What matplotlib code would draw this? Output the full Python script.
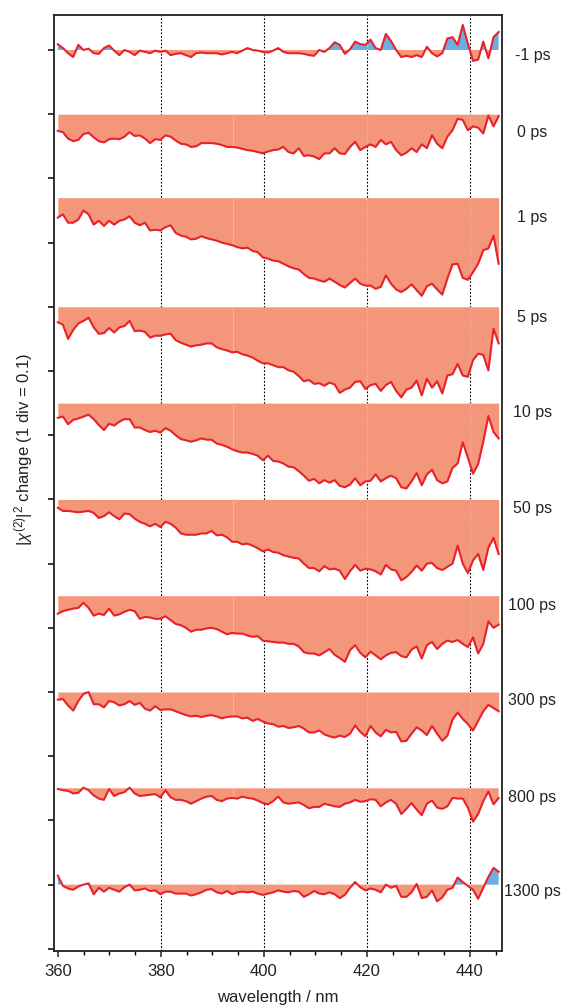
import numpy as np
import matplotlib
matplotlib.use("Agg")
import matplotlib.pyplot as plt

plt.rcParams['font.family'] = ['Liberation Sans', 'DejaVu Sans']
plt.rcParams['mathtext.fontset'] = 'custom'
plt.rcParams['mathtext.rm'] = 'Liberation Sans'
plt.rcParams['mathtext.it'] = 'Liberation Sans:italic'
plt.rcParams['mathtext.bf'] = 'Liberation Sans:bold'

# ---------------- data ----------------
wavelength = np.linspace(360, 445.6, 87)   # nm

delays = ['-1 ps', '0 ps', '1 ps', '5 ps', '10 ps', '50 ps', '100 ps', '300 ps', '800 ps', '1300 ps']

# changes of |chi(2)|^2 in units of 1e-3 (1 div = 0.1 = 100)
d_m1 = [9,3,-5,-11,8,0,2,-5,-6,3, 7,-1,-8,0,-3,-8,-1,-3,-5,-1, -3,-1,-8,-6,-5,-8,-11,-5,-4,-5,
        -5,-5,-7,-5,-3,-5,-1,3,0,-1, -3,-4,-1,3,-3,-5,-5,-5,-6,-8, -9,0,-3,3,12,8,-6,1,13,9,
        8,16,3,0,25,14,0,-11,-9,-11, -8,-11,5,-5,-10,-5,18,20,8,39, 10,-17,-15,13,-13,20,28]
d_0 = [-26,-28,-38,-42,-40,-31,-29,-36,-42,-44, -39,-38,-39,-35,-28,-34,-33,-38,-45,-39,
       -40,-33,-35,-41,-46,-47,-51,-50,-45,-45, -45,-46,-48,-51,-51,-52,-54,-56,-57,-59,
       -61,-58,-56,-55,-51,-59,-61,-53,-65,-64, -66,-70,-61,-61,-53,-61,-62,-51,-43,-56,
       -51,-47,-51,-40,-47,-43,-56,-64,-60,-53, -59,-47,-53,-33,-46,-53,-35,-25,-7,-9,
       -25,-19,-21,-30,-2,-19,-3]
d_1 = [-31,-26,-39,-39,-34,-20,-26,-42,-36,-44, -36,-42,-36,-34,-29,-39,-43,-39,-51,-50,
       -51,-46,-43,-55,-59,-61,-65,-64,-60,-63, -65,-67,-70,-72,-74,-77,-79,-78,-83,-85,
       -93,-95,-98,-99,-103,-107,-110,-112,-119,-125, -126,-129,-131,-126,-131,-136,-140,-133,-126,-134,
       -137,-137,-142,-139,-121,-134,-143,-147,-142,-135, -144,-153,-138,-134,-143,-151,-126,-104,-103,-125,
       -128,-116,-103,-82,-79,-59,-103]
d_5 = [-24,-28,-50,-36,-26,-22,-17,-32,-42,-41, -33,-40,-32,-30,-22,-38,-37,-39,-48,-45,
       -45,-43,-42,-52,-56,-59,-62,-60,-59,-57, -57,-63,-66,-68,-71,-70,-74,-76,-79,-84,
       -88,-88,-91,-94,-94,-99,-101,-108,-116,-114, -120,-119,-123,-118,-121,-134,-129,-126,-117,-116,
       -128,-122,-120,-131,-122,-117,-131,-141,-129,-126, -115,-138,-112,-126,-116,-135,-107,-105,-89,-107,
       -109,-83,-73,-75,-99,-34,-57]
d_10 = [-23,-21,-33,-26,-24,-21,-18,-25,-34,-42, -32,-35,-29,-25,-25,-38,-38,-42,-45,-43,
        -46,-39,-43,-50,-56,-58,-60,-58,-55,-57, -57,-63,-65,-68,-72,-75,-77,-77,-79,-82,
        -89,-82,-90,-91,-94,-99,-100,-106,-113,-121, -118,-125,-120,-124,-120,-129,-131,-127,-117,-128,
        -122,-121,-111,-122,-117,-113,-117,-131,-133,-122, -109,-128,-111,-104,-120,-125,-122,-101,-94,-61,
        -85,-110,-95,-60,-20,-45,-55]
d_50 = [-13,-18,-18,-19,-20,-19,-18,-21,-29,-26, -20,-26,-31,-22,-23,-30,-35,-38,-42,-38,
        -43,-35,-38,-44,-53,-55,-55,-55,-53,-53, -49,-56,-55,-59,-66,-66,-70,-69,-72,-76,
        -81,-78,-82,-83,-87,-89,-91,-92,-100,-107, -107,-112,-104,-109,-108,-111,-124,-112,-102,-111,
        -108,-109,-112,-117,-102,-109,-111,-126,-121,-113, -103,-111,-100,-99,-107,-110,-105,-100,-72,-100,
        -115,-95,-85,-110,-75,-60,-85]
d_100 = [-28,-24,-22,-20,-19,-11,-19,-31,-28,-30, -20,-31,-29,-25,-22,-24,-36,-33,-34,-36,
         -36,-32,-38,-44,-46,-50,-56,-53,-53,-51, -50,-52,-56,-60,-58,-59,-59,-62,-64,-63,
         -70,-71,-72,-73,-73,-75,-75,-79,-88,-90, -90,-93,-88,-83,-92,-97,-103,-85,-77,-89,
         -96,-87,-93,-99,-93,-89,-88,-94,-96,-84, -79,-98,-77,-72,-83,-75,-70,-72,-69,-75,
         -80,-65,-90,-75,-40,-50,-45]
d_300 = [-12,-11,-21,-29,-14,-3,0,-19,-19,-24, -14,-16,-21,-19,-14,-20,-17,-26,-29,-22,
         -28,-27,-27,-30,-33,-36,-38,-37,-39,-37, -36,-38,-41,-39,-38,-38,-41,-40,-45,-42,
         -46,-49,-50,-54,-53,-56,-55,-53,-57,-63, -63,-60,-66,-69,-71,-68,-70,-65,-52,-62,
         -69,-53,-63,-69,-59,-63,-62,-77,-76,-65, -55,-60,-67,-53,-65,-76,-68,-43,-32,-42,
         -50,-60,-45,-30,-20,-25,-30]
d_800 = [-1,-3,-4,-8,-7,1,-3,-11,-16,-18, -1,-12,-8,-6,1,-8,-12,-11,-10,-9,
         -14,-3,-14,-18,-18,-20,-24,-20,-16,-13, -12,-18,-20,-16,-15,-16,-13,-15,-16,-19,
         -23,-25,-20,-13,-22,-24,-23,-22,-26,-31, -29,-29,-24,-26,-28,-29,-24,-22,-18,-21,
         -20,-17,-18,-28,-22,-18,-24,-40,-32,-23, -33,-42,-24,-19,-30,-32,-28,-15,-16,-16,
         -30,-52,-40,-20,-5,-25,-15]
d_1300 = [14,-2,-6,-8,-3,0,2,-15,-5,-11, -5,-8,-11,-4,0,-9,-8,-6,-10,-9,
          -15,-11,-11,-14,-14,-14,-17,-15,-12,-8, -7,-12,-14,-10,-15,-12,-11,-12,-11,-14,
          -16,-14,-12,-9,-11,-12,-10,-11,-19,-15, -10,-14,-15,-12,-15,-21,-16,-5,4,-4,
          -9,-6,-8,-12,0,-5,-2,-19,-19,-12, 1,-21,-19,-9,-26,-20,-8,-5,11,4,
          -2,-8,-22,-5,12,26,20]

series = [d_m1, d_0, d_1, d_5, d_10, d_50, d_100, d_300, d_800, d_1300]

# ---------------- layout ----------------
baselines = [1.40, 1.30, 1.17, 1.00, 0.85, 0.70, 0.55, 0.40, 0.25, 0.10]
label_dy = [-0.008, -0.028, -0.031, -0.017, -0.014, -0.014, -0.016, -0.014, -0.014, -0.011]

W, H = 566, 1005
fig = plt.figure(figsize=(W / 100, H / 100), dpi=100)
ax = fig.add_axes([54 / W, 1 - 951 / H, (502 - 54) / W, (951 - 15) / H])

salmon = '#F49679'
blue = '#6CAEE2'
red = '#E8212B'
seam = '#F7B7A2'

for xg in [380, 400, 420, 440]:
    ax.axvline(xg, color='black', lw=0.8, ls=(0, (1.6, 1.6)), zorder=0.5)

for base, vals in zip(baselines, series):
    v = np.asarray(vals, dtype=float) / 1000.0
    y = base + v
    ax.fill_between(wavelength, base, y, where=(v <= 0), interpolate=True,
                    color=salmon, lw=0, zorder=1)
    ax.fill_between(wavelength, base, y, where=(v >= 0), interpolate=True,
                    color=blue, lw=0, zorder=1)
    # faint seams visible inside the filled areas
    for xs, ls in [(394.0, '-'), (420.0, (0, (1.6, 1.6))), (440.0, (0, (1.6, 1.6)))]:
        yv = np.interp(xs, wavelength, y)
        ax.plot([xs, xs], [base, yv], color=seam, lw=0.7, ls=ls, zorder=1.5)
    ax.plot(wavelength, y, color=red, lw=1.5, zorder=3, solid_joinstyle='round')

for base, dy, lab in zip(baselines, label_dy, delays):
    ax.text(1.068, base + dy, lab, transform=ax.get_yaxis_transform(),
            ha='center', va='center', fontsize=11.5, color='#222222')

ax.set_xlim(359.26, 446.25)
ax.set_ylim(-0.0034, 1.4545)

ax.set_xticks([360, 380, 400, 420, 440])
ax.set_xticks(np.arange(360, 446, 5), minor=True)
ax.set_yticks(np.arange(0, 1.401, 0.1))
ax.set_yticklabels([])
ax.tick_params(axis='x', which='major', direction='out', length=4, width=1.1,
               labelsize=12, pad=5, colors='#222222')
ax.tick_params(axis='x', which='minor', direction='out', length=3, width=1.0)
ax.tick_params(axis='y', which='major', direction='out', length=4, width=1.1)
for s in ax.spines.values():
    s.set_linewidth(1.3)
    s.set_color('#222222')

ax.set_xlabel('wavelength / nm', fontsize=12, labelpad=8, color='#222222')
fig.text(24 / W, 1 - 449 / H, r'$|\chi^{(2)}|^2$ change (1 div = 0.1)',
         rotation=90, ha='center', va='center', fontsize=12, color='#222222')

fig.savefig('out.png', dpi=100)
